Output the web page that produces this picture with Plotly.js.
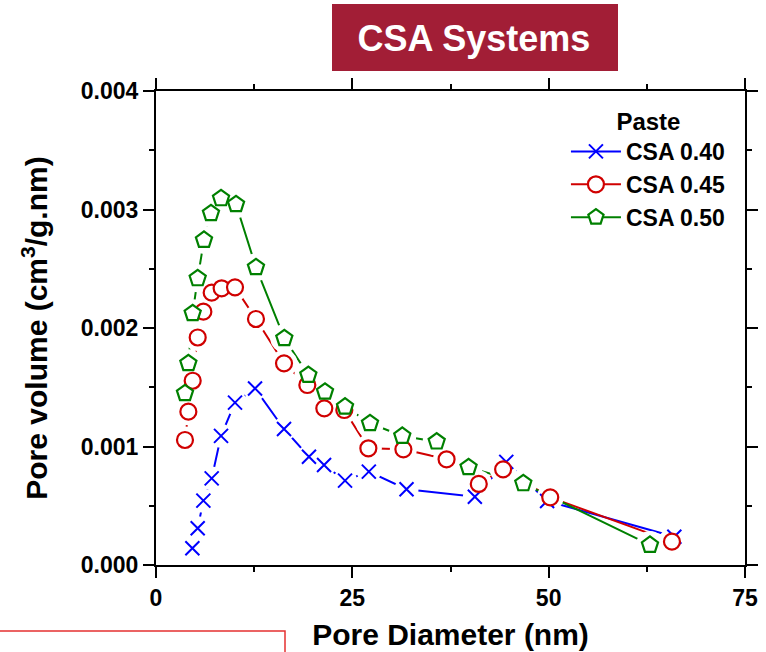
<!DOCTYPE html>
<html>
<head>
<meta charset="utf-8">
<script src="https://cdn.plot.ly/plotly-3.0.1.min.js"></script>
<style>
  html, body { margin: 0; padding: 0; background: #fff; }
  #chart { width: 766px; height: 652px; }
</style>
</head>
<body>
<div id="chart"></div>
<script>
// Series names
const seriesNames = ["CSA 0.40", "CSA 0.45", "CSA 0.50"];

// CSA 0.40 (blue, crosses)
const csa040X = [4.63, 5.31, 6.03, 7.09, 8.28, 10.06, 12.61, 16.3, 19.48, 21.4, 24.07, 27.1, 31.9, 40.6, 44.6, 49.8, 66.0];
const csa040Y = [0.000141, 0.00031, 0.000543, 0.000731, 0.00109, 0.00137, 0.00149, 0.001148, 0.000914, 0.000844, 0.000712, 0.000788, 0.000639, 0.000576, 0.00087, 0.00054, 0.000239];

// CSA 0.45 (red, circles)
const csa045X = [3.69, 4.12, 4.67, 5.31, 6.03, 7.09, 8.36, 10.06, 12.73, 16.3, 19.27, 21.43, 23.98, 27.04, 31.5, 37.0, 41.1, 44.2, 50.2, 65.7];
const csa045Y = [0.001055, 0.001294, 0.001555, 0.00192, 0.002138, 0.002298, 0.002335, 0.002343, 0.002076, 0.001702, 0.001519, 0.001322, 0.001308, 0.000985, 0.000976, 0.000892, 0.000684, 0.000807, 0.000571, 0.000197];

// CSA 0.50 (green, pentagons)
const csa050X = [3.69, 4.12, 4.67, 5.31, 6.11, 7.0, 8.28, 10.19, 12.73, 16.34, 19.4, 21.52, 24.07, 27.25, 31.36, 35.74, 39.8, 46.77, 62.9];
const csa050Y = [0.001449, 0.001702, 0.002124, 0.002419, 0.002743, 0.002968, 0.003094, 0.003044, 0.002512, 0.001913, 0.001603, 0.001462, 0.001336, 0.001196, 0.001089, 0.001041, 0.000825, 0.000689, 0.000169];

// Axis ticks
const xTickVals = [0, 25, 50, 75];
const xTickText = ["0", "25", "50", "75"];
const yTickVals = [0, 0.001, 0.002, 0.003, 0.004];
const yTickText = ["0.000", "0.001", "0.002", "0.003", "0.004"];

const FONT = "Liberation Sans, Arial, Helvetica, sans-serif";

const seriesList = [
  { name: seriesNames[0], x: csa040X, y: csa040Y, color: "#0000FF", symbol: "x-thin", size: 14, fill: "#0000FF", lw: 2, halo: 24 },
  { name: seriesNames[1], x: csa045X, y: csa045Y, color: "#D00000", symbol: "circle", size: 16, fill: "#FFFFFF", lw: 2.2, halo: 27 },
  { name: seriesNames[2], x: csa050X, y: csa050Y, color: "#008000", symbol: "pentagon", size: 17, fill: "#FFFFFF", lw: 2.2, halo: 28 }
];

// split points with nulls so the legend trace draws only markers on the plot
function withGaps(arr) {
  const out = [];
  arr.forEach((v, i) => { out.push(v); if (i < arr.length - 1) out.push(null); });
  return out;
}

const traces = [];
// 1) connecting lines
seriesList.forEach(s => traces.push({
  x: s.x, y: s.y, type: "scatter", mode: "lines", showlegend: false, hoverinfo: "skip",
  line: { color: s.color, width: 2 }
}));
// 2) white gaps around symbols
seriesList.forEach(s => traces.push({
  x: s.x, y: s.y, type: "scatter", mode: "markers", showlegend: false, hoverinfo: "skip",
  marker: { symbol: "circle", size: s.halo, color: "#FFFFFF", line: { width: 0 } }
}));
// 3) symbols (with legend entries)
seriesList.forEach(s => traces.push({
  x: withGaps(s.x), y: withGaps(s.y), name: s.name, type: "scatter", mode: "lines+markers",
  connectgaps: false,
  line: { color: s.color, width: 2 },
  marker: { symbol: s.symbol, size: s.size, color: s.fill, line: { color: s.color, width: s.lw } }
}));

const axisCommon = {
  showgrid: false, zeroline: false, showline: true, linecolor: "#000", linewidth: 2,
  mirror: "ticks", ticks: "outside", ticklen: 11, tickwidth: 2, tickcolor: "#000",
  tickfont: { family: FONT, size: 23, color: "#000", weight: "bold" }
};

const layout = {
  width: 766, height: 652,
  margin: { l: 156, r: 21, t: 91, b: 87 },
  paper_bgcolor: "#FFFFFF", plot_bgcolor: "#FFFFFF",
  font: { family: FONT, color: "#000" },
  title: {
    text: "<b>CSA Systems</b>",
    font: { family: FONT, size: 36, color: "#FFFFFF" },
    x: 474 / 766, xref: "container", xanchor: "center",
    y: 1 - 38 / 652, yref: "container", yanchor: "middle"
  },
  xaxis: Object.assign({}, axisCommon, {
    range: [0, 75], tickvals: xTickVals, ticktext: xTickText,
    minor: { ticks: "outside", ticklen: 5, tickwidth: 2, tickcolor: "#000", dtick: 12.5, tick0: 0, showgrid: false },
    title: { text: "<b>Pore Diameter (nm)</b>", font: { family: FONT, size: 30, color: "#000" }, standoff: 14 }
  }),
  yaxis: Object.assign({}, axisCommon, {
    range: [0, 0.004], tickvals: yTickVals, ticktext: yTickText,
    minor: { ticks: "outside", ticklen: 5, tickwidth: 2, tickcolor: "#000", dtick: 0.0005, tick0: 0, showgrid: false },
    title: { text: "<b>Pore volume (cm<sup>3</sup>/g.nm)</b>", font: { family: FONT, size: 30, color: "#000" }, standoff: 24 }
  }),
  legend: {
    x: 0.696, xanchor: "left", y: 0.9837, yanchor: "top",
    bgcolor: "rgba(0,0,0,0)", borderwidth: 0,
    font: { family: FONT, size: 23, color: "#000", weight: "bold" },
    title: { text: "<b>Paste</b>", side: "top center", font: { family: FONT, size: 24, color: "#000" } },
    itemsizing: "trace", itemwidth: 50
  },
  shapes: [
    {
      type: "rect", xref: "paper", yref: "paper", layer: "below",
      x0: (332 - 156) / 589, x1: (618 - 156) / 589,
      y0: (565 - 71) / 474, y1: (565 - 4) / 474,
      fillcolor: "#A21E36", line: { width: 0 }
    },
    {
      type: "rect", xref: "paper", yref: "paper", layer: "below",
      x0: (-10 - 156) / 589, x1: (285 - 156) / 589,
      y0: (565 - 631) / 474, y1: (565 - 700) / 474,
      fillcolor: "rgba(0,0,0,0)", line: { color: "#E53030", width: 1.5 }
    }
  ],
  showlegend: true
};

Plotly.newPlot("chart", traces, layout, { displayModeBar: false, staticPlot: true });
</script>
</body>
</html>
